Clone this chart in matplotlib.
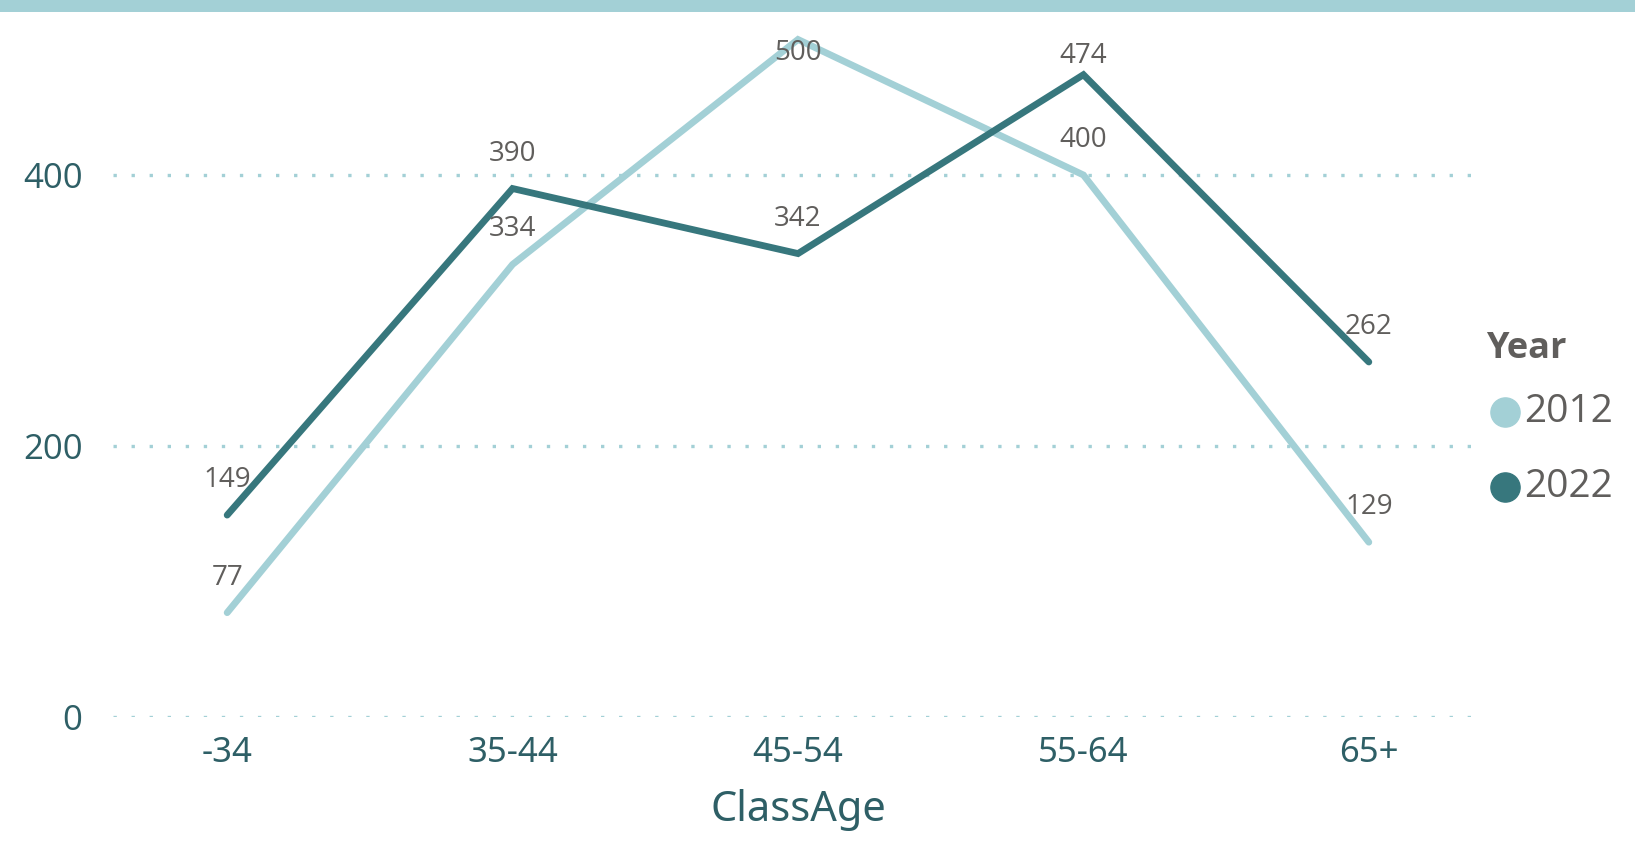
import matplotlib
matplotlib.use("Agg")
import matplotlib.pyplot as plt
from matplotlib.lines import Line2D
from matplotlib.patches import Rectangle

plt.rcParams["font.family"] = ["Open Sans", "DejaVu Sans"]
plt.rcParams["lines.scale_dashes"] = False

age_classes = ["-34", "35-44", "45-54", "55-64", "65+"]
years = ["2012", "2022"]
values_2012 = [77, 334, 500, 400, 129]
values_2022 = [149, 390, 342, 474, 262]
colors = {"2012": "#A3D0D6", "2022": "#37777D"}

axis_color = "#2E5F66"
label_color = "#605E5C"

fig = plt.figure(figsize=(16.35, 8.46), dpi=100)
fig.patch.set_facecolor("white")
# teal strip along the top of the card
fig.patches.append(Rectangle((0, 834 / 846), 1, 12 / 846, transform=fig.transFigure,
                             facecolor=colors["2012"], edgecolor="none"))

ax = fig.add_axes([113 / 1635, 129 / 846, 1370 / 1635, 687 / 846])
x = list(range(len(age_classes)))

for year, vals in zip(years, [values_2012, values_2022]):
    ax.plot(x, vals, color=colors[year], lw=4.9, solid_capstyle="round",
            solid_joinstyle="miter", zorder=3)

# value labels above each point (pushed down where the top would clip them)
for year, vals in zip(years, [values_2012, values_2022]):
    for xi, v in zip(x, vals):
        dy = 35
        if v >= 495:
            dy = -14
        elif v >= 470:
            dy = 19
        ax.annotate(str(v), (xi, v), xytext=(0, dy), textcoords="offset pixels",
                    ha="center", va="center", fontsize=20, color=label_color,
                    zorder=4, annotation_clip=False)

ax.set_xlim(-0.4, 4.4)
ax.set_ylim(0, 507)
ax.set_yticks([0, 200, 400])
ax.set_xticks(x)
ax.set_xticklabels(age_classes, family=["Noto Sans", "DejaVu Sans"])

ax.grid(axis="y", color=colors["2012"], lw=2.4, dashes=(2.4, 10.6))
ax.set_axisbelow(True)
for sp in ax.spines.values():
    sp.set_visible(False)
ax.tick_params(length=0, colors=axis_color, labelsize=25)
ax.tick_params(axis="y", pad=22)
ax.tick_params(axis="x", pad=14)

ax.set_xlabel("ClassAge", fontsize=30, color=axis_color, labelpad=13,
              family=["Noto Sans", "DejaVu Sans"], weight="medium")

# legend
fig.text(1486 / 1635, 1 - 349 / 846, "Year", fontsize=26, weight="bold",
         color=label_color, ha="left", va="center")
for yy, year in zip([412, 487], years):
    fig.add_artist(Line2D([1505 / 1635], [1 - yy / 846], marker="o", markersize=21,
                          color=colors[year], linestyle="none",
                          transform=fig.transFigure))
    fig.text(1524 / 1635, 1 - yy / 846, year, fontsize=28, color=label_color,
             ha="left", va="center")

fig.savefig("out.png", dpi=100, facecolor="white")
